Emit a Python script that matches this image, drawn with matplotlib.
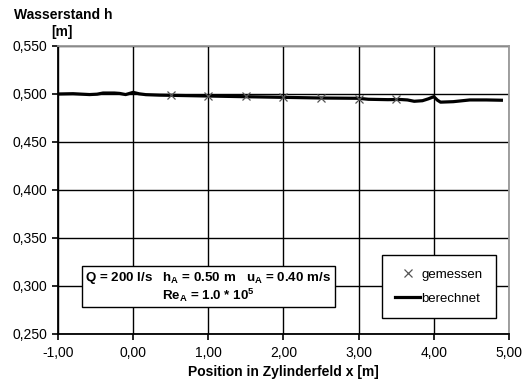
import numpy as np
import matplotlib.pyplot as plt
from matplotlib.ticker import FuncFormatter

plt.rcParams['font.family'] = ['Liberation Sans', 'DejaVu Sans']
plt.rcParams['mathtext.fontset'] = 'custom'
plt.rcParams['mathtext.rm'] = 'Liberation Sans'
plt.rcParams['mathtext.bf'] = 'Liberation Sans:bold'

# gemessen
x_mess = [0.5, 1.0, 1.5, 2.0, 2.5, 3.0, 3.5]
h_mess = [0.4990, 0.4982, 0.4975, 0.4965, 0.4958, 0.4952, 0.4945]

# berechnet
x_calc = [-1.00, -0.80, -0.58, -0.48, -0.40, -0.25, -0.18, -0.10, 0.00, 0.08, 0.17,
          0.35, 0.51, 0.99, 1.47, 2.00, 2.52, 3.00, 3.13, 3.39, 3.55, 3.65, 3.74,
          3.85, 3.93, 4.00, 4.05, 4.09, 4.26, 4.48, 4.70, 4.90]
h_calc = [0.5000, 0.5003, 0.4994, 0.4998, 0.5010, 0.5010, 0.5006, 0.4994, 0.5017, 0.5002, 0.4993,
          0.4988, 0.4986, 0.4979, 0.4972, 0.4965, 0.4958, 0.4955, 0.4945, 0.4941, 0.4943, 0.4938, 0.4924,
          0.4930, 0.4950, 0.4972, 0.4935, 0.4915, 0.4920, 0.4938, 0.4938, 0.4935]

fig = plt.figure(figsize=(5.29, 3.82), dpi=100)
ax = fig.add_axes([0.1096, 0.1257, 0.8524, 0.7539])

ax.plot(x_calc, h_calc, color='black', lw=2.3, label='berechnet', zorder=3)
ax.plot(x_mess, h_mess, ls='none', marker='x', ms=6, mew=0.9, color='#555555',
        label='gemessen', zorder=4)

ax.set_xlim(-1, 5)
ax.set_ylim(0.25, 0.55)
ax.set_xticks(np.arange(-1, 5.01, 1))
ax.set_yticks(np.arange(0.25, 0.551, 0.05))
ax.xaxis.set_major_formatter(FuncFormatter(lambda v, p: f'{v:.2f}'.replace('.', ',')))
ax.yaxis.set_major_formatter(FuncFormatter(lambda v, p: f'{v:.3f}'.replace('.', ',')))
ax.tick_params(labelsize=10, length=4, width=1.2, color='black')
ax.tick_params(axis='x', pad=5)
ax.grid(True, color='black', lw=1.0)

ax.spines['top'].set_color('#999999')
ax.spines['top'].set_linewidth(1.3)
ax.spines['right'].set_color('#999999')
ax.spines['right'].set_linewidth(1.3)
ax.spines['left'].set_linewidth(1.3)
ax.spines['bottom'].set_linewidth(1.3)

ax.set_xlabel('Position in Zylinderfeld x [m]', fontweight='bold', fontsize=10, labelpad=3.5)
fig.text(0.12, 0.96, 'Wasserstand h', fontweight='bold', fontsize=10, ha='center', va='center')
fig.text(0.117, 0.917, '[m]', fontweight='bold', fontsize=10, ha='center', va='center')

ax.text(1.0, 0.299,
        r'Q = 200 l/s   h$_\mathbf{A}$ = 0.50 m   u$_\mathbf{A}$ = 0.40 m/s' + '\n'
        + r'Re$_\mathbf{A}$ = 1.0 * 10$^\mathbf{5}$',
        fontweight='bold', fontsize=9.6, ha='center', va='center', multialignment='center',
        linespacing=1.0,
        bbox=dict(boxstyle='square,pad=0.25', fc='white', ec='black', lw=1.0), zorder=5)

handles, labels = ax.get_legend_handles_labels()
leg = ax.legend(handles[::-1], labels[::-1], loc='lower right', bbox_to_anchor=(0.971, 0.056),
                borderaxespad=0, fontsize=9.5, fancybox=False, framealpha=1, edgecolor='black',
                handlelength=1.9, handletextpad=0.1, labelspacing=0.9, borderpad=1.0)
leg.get_frame().set_linewidth(1.0)

fig.savefig('out.png', dpi=100)
